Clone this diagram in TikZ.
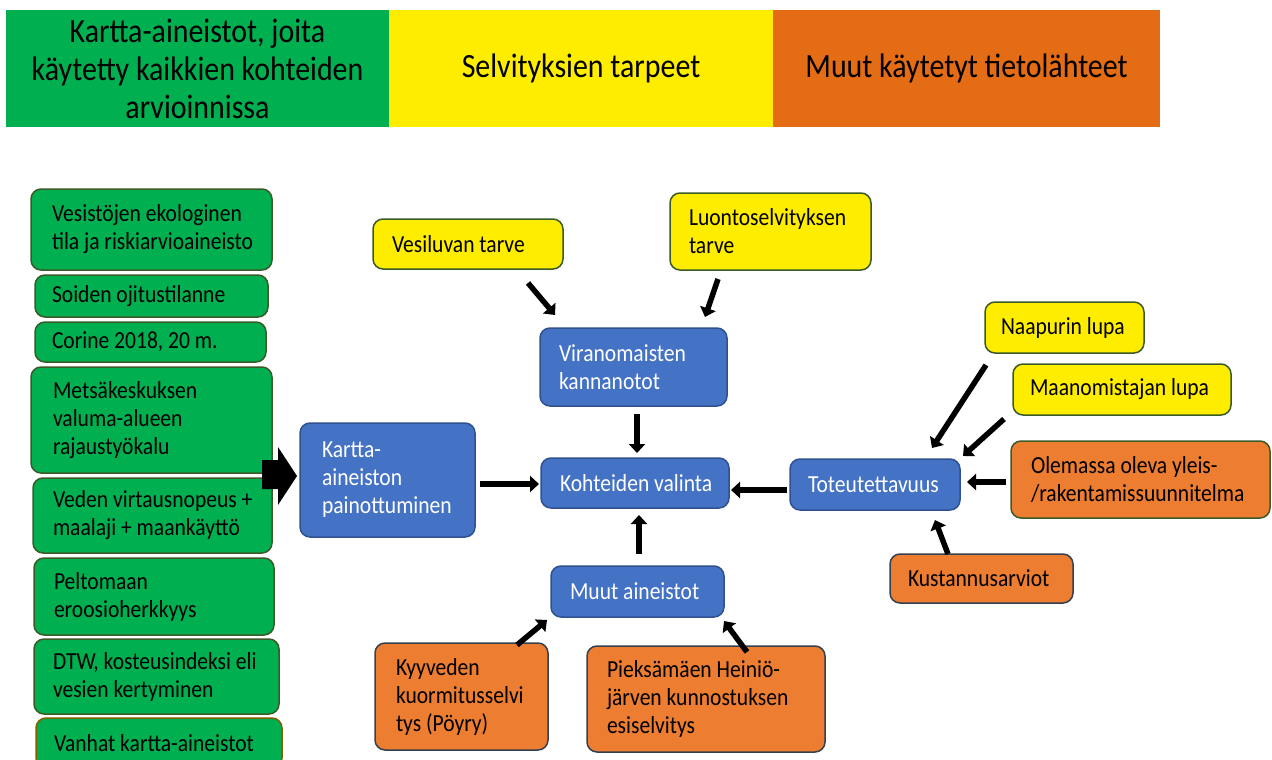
\documentclass[tikz,border=0pt]{standalone}
\usepackage{fontspec}
\setmainfont{Carlito}[FakeStretch=0.88]
\usetikzlibrary{arrows.meta}
\definecolor{hgreen}{HTML}{00B050}
\definecolor{hyellow}{HTML}{FFED00}
\definecolor{horange}{HTML}{E46C14}
\definecolor{bfill}{HTML}{4472C4}
\definecolor{bline}{HTML}{2F528F}
\definecolor{ofill}{HTML}{ED7D31}
\definecolor{gline}{HTML}{3A5A28}
\definecolor{oline}{HTML}{34404F}
\definecolor{vline}{HTML}{7F6000}
\begin{document}
\begin{tikzpicture}[x=1pt,y=-1pt,
  hdr/.style={draw=none, inner sep=0pt, align=center, font=\fontsize{34}{38}\selectfont},
  base/.style={rounded corners=10pt, line width=1.5pt, inner ysep=0pt, align=flush left,
    font=\fontsize{24.5}{28}\selectfont},
  gbox/.style={base, fill=hgreen, draw=gline},
  bbox/.style={base, fill=bfill, draw=bline, text=white},
  ybox/.style={base, fill=hyellow, draw=gline},
  obox/.style={base, fill=ofill, draw=oline},
  conn/.style={line width=5.5pt, -{Triangle[length=9pt,width=16pt]}}]
\useasboundingbox (0,0) rectangle (1272,760);

% header
\node[hdr, fill=hgreen, minimum width=383pt, minimum height=117pt] (h1) at (197.5,68.5)
  {Kartta-aineistot, joita\\käytetty kaikkien kohteiden\\arvioinnissa};
\node[hdr, fill=hyellow, minimum width=384pt, minimum height=117pt] (h2) at (581,68.5)
  {Selvityksien tarpeet};
\node[hdr, fill=horange, minimum width=387pt, minimum height=117pt] (h3) at (966.5,68.5)
  {Muut käytetyt tietolähteet};

% green column
\node[gbox, inner xsep=21pt, text width=199pt, minimum height=81pt] (g1) at (151.5,229.5)
  {\mbox{Vesistöjen ekologinen}\\\mbox{tila ja riskiarvioaineisto}};
\node[gbox, inner xsep=17pt, text width=199pt, minimum height=42pt] (g2) at (151.5,296)
  {\mbox{Soiden ojitustilanne}};
\node[gbox, inner xsep=17pt, text width=197pt, minimum height=40pt] (g3) at (150.5,342)
  {\mbox{Corine 2018, 20 m.}};
\node[gbox, inner xsep=22pt, text width=197pt, minimum height=106pt] (g4) at (151.5,420)
  {\mbox{Metsäkeskuksen}\\\mbox{valuma-alueen}\\\mbox{rajaustyökalu}};
\node[gbox, inner xsep=20pt, text width=199pt, minimum height=75pt] (g5) at (152.5,515.5)
  {\mbox{Veden virtausnopeus +}\\\mbox{maalaji + maankäyttö}};
\node[gbox, inner xsep=20pt, text width=200pt, minimum height=77pt] (g6) at (154,596.5)
  {\mbox{Peltomaan}\\\mbox{eroosioherkkyys}};
\node[gbox, inner xsep=19pt, text width=207pt, minimum height=75pt] (g7) at (156.5,676.5)
  {\mbox{DTW, kosteusindeksi eli}\\\mbox{vesien kertyminen}};
\node[gbox, draw=vline, inner xsep=18pt, text width=210pt, minimum height=50pt] (g8) at (159,743)
  {\mbox{Vanhat kartta-aineistot}};

% block arrow
\fill (262,460) -- (278,460) -- (278,447) -- (297,476) -- (278,505) -- (278,489) -- (262,489) -- cycle;

% blue
\node[bbox, inner xsep=22pt, text width=131pt, minimum height=114pt] (b1) at (387.5,480)
  {\mbox{Kartta-}\\\mbox{aineiston}\\\mbox{painottuminen}};
\node[bbox, inner xsep=19pt, text width=149pt, minimum height=78pt] (b2) at (633.5,367)
  {\mbox{Viranomaisten}\\\mbox{kannanotot}};
\node[bbox, inner xsep=19pt, text width=150pt, minimum height=50pt] (b3) at (635,483)
  {\mbox{Kohteiden valinta}};
\node[bbox, inner xsep=18pt, text width=134pt, minimum height=51pt] (b4) at (875,484.5)
  {\mbox{Toteutettavuus}};
\node[bbox, inner xsep=19pt, text width=135pt, minimum height=51pt] (b5) at (637.5,591.5)
  {\mbox{Muut aineistot}};

% yellow
\node[ybox, inner xsep=19pt, text width=152pt, minimum height=50pt] (y1) at (468,244)
  {\mbox{Vesiluvan tarve}};
\node[ybox, inner xsep=19pt, text width=163pt, minimum height=77pt] (y2) at (770.5,231.5)
  {\mbox{Luontoselvityksen}\\\mbox{tarve}};
\node[ybox, inner xsep=16pt, text width=127pt, minimum height=51pt] (y3) at (1064.5,327.5)
  {\mbox{Naapurin lupa}};
\node[ybox, inner xsep=17pt, text width=184pt, minimum height=51pt] (y4) at (1122,389.5)
  {\mbox{Maanomistajan lupa}};

% orange
\node[obox, draw=gline, inner xsep=20pt, text width=219pt, minimum height=77pt] (o1) at (1140.5,479.5)
  {\mbox{Olemassa oleva yleis-}\\\mbox{/rakentamissuunnitelma}};
\node[obox, inner xsep=18pt, text width=147pt, minimum height=49pt] (o2) at (981.5,578.5)
  {\mbox{Kustannusarviot}};
\node[obox, inner xsep=21pt, text width=131pt, minimum height=107pt] (o3) at (461.5,696.5)
  {\mbox{Kyyveden}\\\mbox{kuormitusselvi}\\\mbox{tys (Pöyry)}};
\node[obox, inner xsep=20pt, text width=198pt, minimum height=106pt] (o4) at (706,699)
  {\mbox{Pieksämäen Heiniö-}\\\mbox{järven kunnostuksen}\\\mbox{esiselvitys}};

% connector end points
\coordinate (a1s) at (528,283);  \coordinate (a1e) at (555,315);
\coordinate (a2s) at (718,279);  \coordinate (a2e) at (705,317);
\coordinate (a3s) at (637,414);  \coordinate (a3e) at (637,453);
\coordinate (a4s) at (480,484);  \coordinate (a4e) at (539,484);
\coordinate (a5s) at (787,490);  \coordinate (a5e) at (731,490);
\coordinate (a6s) at (639,554);  \coordinate (a6e) at (639,515);
\coordinate (a7s) at (517,645);  \coordinate (a7e) at (547,620);
\coordinate (a8s) at (747,652);  \coordinate (a8e) at (724,621);
\coordinate (a9s) at (986,365);  \coordinate (a9e) at (932,448);
\coordinate (a10s) at (1004,419); \coordinate (a10e) at (963,456);
\coordinate (a11s) at (1006,482); \coordinate (a11e) at (967,482);
\coordinate (a12s) at (948,554);  \coordinate (a12e) at (935,520);

\draw[conn] (a1s) -- (a1e);
\draw[conn] (a2s) -- (a2e);
\draw[conn] (a3s) -- (a3e);
\draw[conn] (a4s) -- (a4e);
\draw[conn] (a5s) -- (a5e);
\draw[conn] (a6s) -- (a6e);
\draw[conn] (a7s) -- (a7e);
\draw[conn] (a8s) -- (a8e);
\draw[conn] (a9s) -- (a9e);
\draw[conn] (a10s) -- (a10e);
\draw[conn] (a11s) -- (a11e);
\draw[conn] (a12s) -- (a12e);
\end{tikzpicture}
\end{document}
